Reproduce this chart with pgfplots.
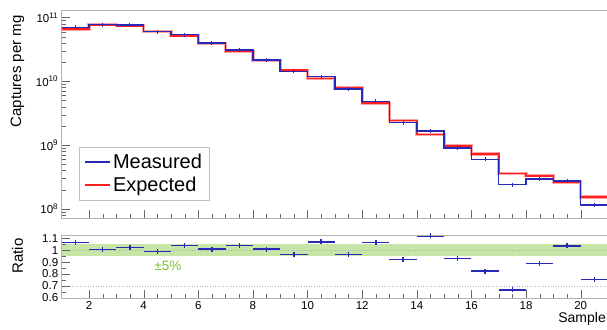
\documentclass[border=0pt]{standalone}
\usepackage{fontspec}
\setmainfont{Liberation Sans}
\usepackage{pgfplots}
\pgfplotsset{compat=1.18}
\definecolor{mblue}{rgb}{0.16,0.16,0.72}
\definecolor{ered}{rgb}{1,0.12,0.12}
\definecolor{bandc}{rgb}{0.78,0.90,0.65}
\definecolor{pctgreen}{rgb}{0.47,0.76,0.2}
\begin{document}
\begin{tikzpicture}
\path[use as bounding box] (0pt,0pt) rectangle (607pt,329pt);
\pgfplotsset{
  common/.style={
    scale only axis,
    width=546.3pt,
    xmin=1, xmax=21,
    tick pos=left,
    axis line style={gray!60, line width=0.8pt},
    major tick style={gray!80!black},
    minor tick style={gray!80!black},
    major tick length=8pt,
    minor tick length=4pt,
    tick label style={font=\fontsize{11.5}{13}\selectfont},
    /pgf/number format/assume math mode=true,
    xtick={2,4,...,20},
    minor x tick num=3,
  }
}
\begin{axis}[common,
  at={(61.7pt,111pt)}, anchor=south west,
  height=208pt,
  ymode=log,
  ymin=7.2e7, ymax=1.31e11,
  xticklabels={},
  ytick={1e8,1e9,1e10,1e11},
  yticklabels={10\textsuperscript{8},10\textsuperscript{9},10\textsuperscript{10},10\textsuperscript{11}},
  minor ytick={8e7,9e7,2e8,3e8,4e8,5e8,6e8,7e8,8e8,9e8,2e9,3e9,4e9,5e9,6e9,7e9,8e9,9e9,2e10,3e10,4e10,5e10,6e10,7e10,8e10,9e10},
  legend style={at={(0.0317,0.343)}, anchor=north west, draw=gray!50,
    font=\fontsize{20}{24}\selectfont, inner xsep=5pt, inner ysep=5pt, row sep=3pt},
  legend cell align=left,
  legend image code/.code={\draw[#1] (0pt,0pt) -- (25pt,0pt);},
]
\addlegendimage{draw=mblue, line width=1.6pt}
\addlegendentry{Measured\hspace{14pt}}
\addlegendimage{draw=ered, line width=1.8pt}
\addlegendentry{Expected}
% Expected (halo + core)
\addplot[draw=ered!40, line width=3.2pt, const plot, mark=none, forget plot] coordinates {
(1,6.56e10) (2,7.69e10) (3,7.41e10) (4,6.04e10) (5,5.17e10)
(6,3.92e10) (7,2.97e10) (8,2.13e10) (9,1.49e10) (10,1.10e10)
(11,7.85e9) (12,4.53e9) (13,2.43e9) (14,1.47e9) (15,9.75e8)
(16,7.23e8) (17,3.61e8) (18,3.31e8) (19,2.64e8) (20,1.54e8) (21,1.54e8)};
\addplot[draw=ered, line width=1.6pt, const plot, mark=none, forget plot] coordinates {
(1,6.56e10) (2,7.69e10) (3,7.41e10) (4,6.04e10) (5,5.17e10)
(6,3.92e10) (7,2.97e10) (8,2.13e10) (9,1.49e10) (10,1.10e10)
(11,7.85e9) (12,4.53e9) (13,2.43e9) (14,1.47e9) (15,9.75e8)
(16,7.23e8) (17,3.61e8) (18,3.31e8) (19,2.64e8) (20,1.54e8) (21,1.54e8)};
% Measured
\addplot[draw=mblue, line width=1.5pt, const plot, mark=none, forget plot] coordinates {
(1,6.99e10) (2,7.74e10) (3,7.59e10) (4,5.98e10) (5,5.38e10)
(6,3.96e10) (7,3.09e10) (8,2.15e10) (9,1.43e10) (10,1.18e10)
(11,7.58e9) (12,4.82e9) (13,2.24e9) (14,1.65e9) (15,9.05e8)
(16,5.95e8) (17,2.40e8) (18,2.93e8) (19,2.74e8) (20,1.16e8) (21,1.16e8)};
\addplot[mblue, only marks, mark=|, mark size=2pt, mark options={line width=1pt}, forget plot] coordinates {
(1.5,6.99e10) (2.5,7.74e10) (3.5,7.59e10) (4.5,5.98e10) (5.5,5.38e10)
(6.5,3.96e10) (7.5,3.09e10) (8.5,2.15e10) (9.5,1.43e10) (10.5,1.18e10)
(11.5,7.58e9) (12.5,4.82e9) (13.5,2.24e9) (14.5,1.65e9) (15.5,9.05e8)
(16.5,5.95e8) (17.5,2.40e8) (18.5,2.93e8) (19.5,2.74e8) (20.5,1.16e8)};
\end{axis}
\begin{axis}[common,
  at={(61.7pt,30.7pt)}, anchor=south west,
  height=62.6pt,
  ymin=0.595, ymax=1.122,
  ytick={0.6,0.7,0.8,0.9,1,1.1},
  yticklabels={0.6,0.7,0.8,0.9,1,1.1},
  minor y tick num=1,
  xticklabels={2,4,6,8,10,12,14,16,18,20},
  clip=false,
  axis on top,
]
\addplot[draw=none, fill=bandc] coordinates {(1,0.95) (21,0.95) (21,1.05) (1,1.05)} -- cycle;
\addplot[gray!60, dotted, line width=0.6pt] coordinates {(1,1) (21,1)};
\addplot[gray!60, dotted, line width=0.6pt] coordinates {(1,0.7) (21,0.7)};
\addplot[mblue, only marks, mark=|, mark size=2.5pt, mark options={line width=1.4pt},
  error bars/.cd, x dir=both, x fixed=0.5, error mark=none,
  error bar style={mblue, line width=1.5pt}] coordinates {
(1.5,1.066) (2.5,1.006) (3.5,1.024) (4.5,0.99) (5.5,1.04)
(6.5,1.01) (7.5,1.04) (8.5,1.01) (9.5,0.962) (10.5,1.07)
(11.5,0.965) (12.5,1.063) (13.5,0.92) (14.5,1.12) (15.5,0.928)
(16.5,0.823) (17.5,0.666) (18.5,0.886) (19.5,1.037) (20.5,0.752)};
\node[pctgreen, font=\fontsize{13.5}{15}\selectfont] at (axis cs:4.89,0.867) {±5\%};
\end{axis}
\node[rotate=90, anchor=east, font=\fontsize{15}{17}\selectfont] at (17.5pt,317pt) {Captures per mg};
\node[rotate=90, anchor=east, font=\fontsize{15}{17}\selectfont] at (17.5pt,94pt) {Ratio};
\node[anchor=base east, font=\fontsize{14}{16}\selectfont, inner sep=0pt] at (606pt,7pt) {Sample};
\end{tikzpicture}
\end{document}
